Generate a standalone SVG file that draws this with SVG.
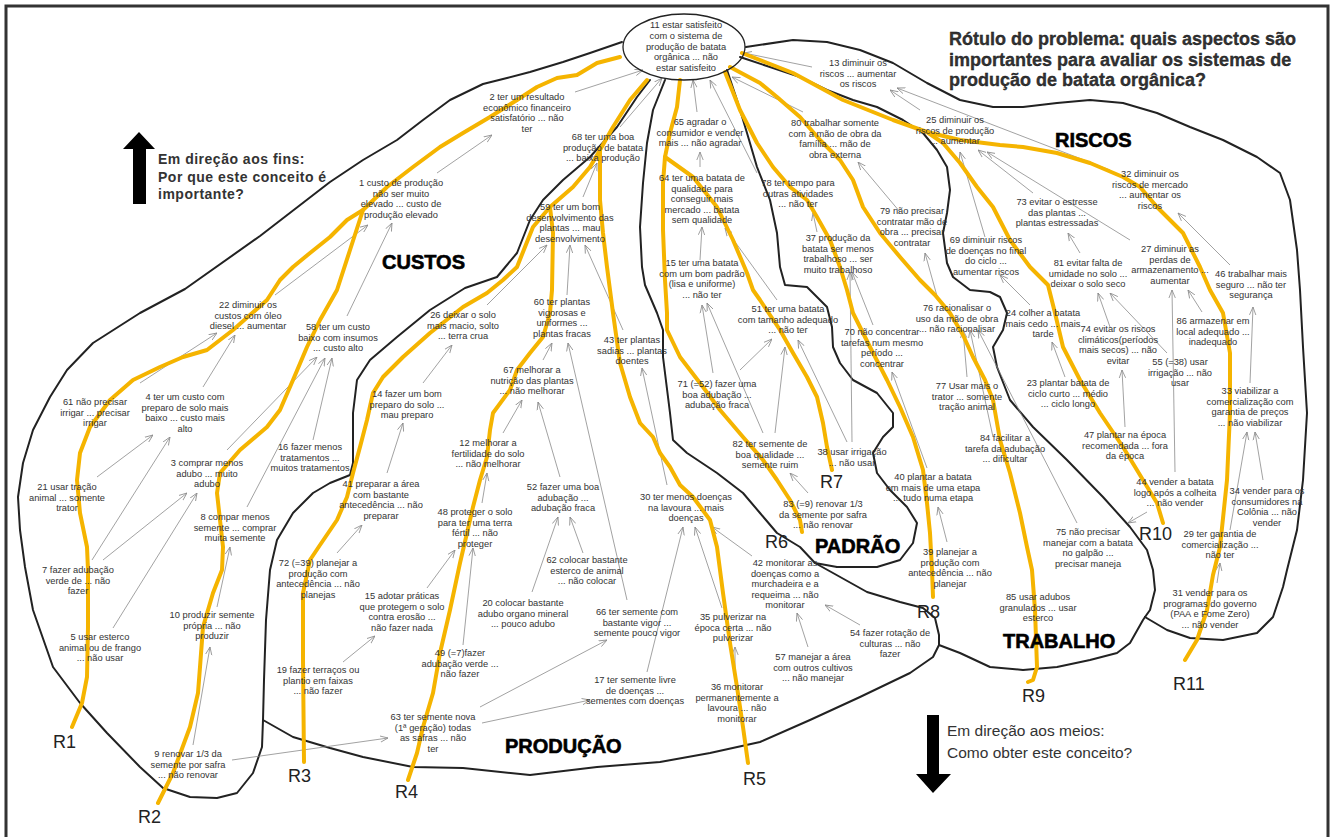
<svg xmlns="http://www.w3.org/2000/svg" width="1333" height="837" viewBox="0 0 1333 837">
<style>
.t{font-family:"Liberation Sans",Arial,sans-serif;font-size:9.3px;fill:#333;text-anchor:middle}
.b{fill:none;stroke:#222;stroke-width:2;stroke-linejoin:round;stroke-linecap:round}
.y{fill:none;stroke:#f5b400;stroke-width:4;stroke-linejoin:round;stroke-linecap:round}
.c{stroke:#8a8a8a;stroke-width:0.8;fill:none;marker-end:url(#ah)}
.g{font-family:"Liberation Sans",Arial,sans-serif;font-size:20px;font-weight:bold;fill:#000;stroke:#000;stroke-width:0.6}
.r{font-family:"Liberation Sans",Arial,sans-serif;font-size:18px;fill:#222}
.h{font-family:"Liberation Sans",Arial,sans-serif;fill:#333}
</style>
<defs>
<marker id="ah" viewBox="0 0 10 10" refX="10" refY="5" markerWidth="8" markerHeight="8" orient="auto" markerUnits="userSpaceOnUse"><path d="M0,1 L10,5 L0,9" fill="none" stroke="#8a8a8a" stroke-width="1"/></marker>
</defs>
<rect x="6" y="6" width="1322" height="840" fill="#fff" stroke="#333" stroke-width="3"/>

<g id="boundaries">
<path class="b" d="M622,42 L590,53 L563,62 L530,72 L507,78 L483,84 L450,100 L423,120 L397,140 L363,160 L330,182 L260,236 L185,289 L140,313 L93,343 L67,370 L50,397 L33,430 L23,463 L18,497 L20,530 L25,567 L33,610 L53,667 L80,703 L107,733 L140,767 L163,788 L190,797 L217,798 L237,793 L253,773 L262,747 L263,720"/>
<path class="b" d="M650,80 L637,97 L617,127 L590,157 L563,180 L543,200 L530,220 L517,253 L497,277 L465,288 L430,310 L397,337 L370,360 L357,380 L353,413 L353,463 L350,475 L330,483 L313,493 L293,513 L277,540 L270,570 L266,620 L264,680 L263,720"/>
<path class="b" d="M263,720 L293,737 L330,748 L363,757 L413,767 L463,768 L530,775 L597,767 L660,762 L710,753 L760,742 L810,720 L860,697 L910,673 L933,657 L939,645 L939,635 L935,618 L923,608 L900,602 L867,592 L833,573 L815,563"/>
<path class="b" d="M665,80 L653,110 L647,143 L643,183 L640,227 L642,267 L645,285 L657,313 L663,330 L663,357 L670,413 L673,440 L687,453 L717,473 L743,493 L760,513 L777,533 L800,547 L815,563 L837,567"/>
<path class="b" d="M727,70 L737,100 L747,133 L757,167 L770,200 L777,233 L780,267 L785,285 L807,287 L827,307 L832,327 L833,347 L840,363 L853,380 L877,393 L893,413 L893,427 L883,437 L873,453 L877,473 L890,490 L907,507 L917,523 L913,543 L900,560 L877,567 L837,567"/>
<path class="b" d="M740,57 L770,67 L800,77 L827,90 L853,100 L877,107 L903,120 L923,133 L937,150 L947,167 L950,190 L947,213 L943,233 L947,263 L953,277 L970,290 L990,292 L1000,297 L1007,313 L1003,330 L993,347 L997,367 L1010,400 L1033,427 L1067,460 L1103,497 L1130,527 L1147,550 L1153,570 L1155,590 L1150,610 L1145,617"/>
<path class="b" d="M939,645 L960,653 L990,667 L1023,670 L1057,667 L1090,660 L1117,653 L1130,643 L1143,620 L1145,617"/>
<path class="b" d="M746,47 L793,40 L827,42 L860,50 L893,63 L927,83 L960,100 L993,107 L1023,107 L1057,103 L1090,100 L1123,103 L1157,113 L1190,127 L1223,140 L1257,157 L1280,173 L1290,200 L1297,250 L1300,290 L1303,347 L1307,413 L1303,480 L1297,530 L1287,570 L1283,587 L1273,617 L1257,633 L1223,640 L1190,638 L1167,630 L1150,620 L1145,617"/>
</g>

<g id="connectors">
<line class="c" x1="575" y1="92" x2="643" y2="70"/>
<line class="c" x1="620" y1="127" x2="662" y2="78"/>
<line class="c" x1="437" y1="173" x2="492" y2="135"/>
<line class="c" x1="275" y1="295" x2="368" y2="225"/>
<line class="c" x1="347" y1="316" x2="392" y2="223"/>
<line class="c" x1="140" y1="383" x2="217" y2="333"/>
<line class="c" x1="203" y1="387" x2="235" y2="335"/>
<line class="c" x1="97" y1="477" x2="153" y2="435"/>
<line class="c" x1="92" y1="560" x2="170" y2="437"/>
<line class="c" x1="103" y1="560" x2="187" y2="493"/>
<line class="c" x1="113" y1="628" x2="197" y2="493"/>
<line class="c" x1="227" y1="450" x2="317" y2="357"/>
<line class="c" x1="247" y1="507" x2="325" y2="358"/>
<line class="c" x1="313" y1="440" x2="332" y2="358"/>
<line class="c" x1="217" y1="607" x2="230" y2="547"/>
<line class="c" x1="193" y1="745" x2="210" y2="647"/>
<line class="c" x1="232" y1="760" x2="388" y2="738"/>
<line class="c" x1="487" y1="305" x2="547" y2="245"/>
<line class="c" x1="423" y1="383" x2="452" y2="345"/>
<line class="c" x1="387" y1="473" x2="403" y2="423"/>
<line class="c" x1="337" y1="553" x2="362" y2="525"/>
<line class="c" x1="567" y1="295" x2="570" y2="245"/>
<line class="c" x1="623" y1="330" x2="585" y2="245"/>
<line class="c" x1="543" y1="360" x2="552" y2="343"/>
<line class="c" x1="503" y1="433" x2="522" y2="400"/>
<line class="c" x1="560" y1="477" x2="538" y2="402"/>
<line class="c" x1="482" y1="503" x2="487" y2="473"/>
<line class="c" x1="583" y1="553" x2="570" y2="517"/>
<line class="c" x1="532" y1="592" x2="558" y2="517"/>
<line class="c" x1="627" y1="600" x2="568" y2="343"/>
<line class="c" x1="463" y1="645" x2="473" y2="548"/>
<line class="c" x1="427" y1="588" x2="455" y2="550"/>
<line class="c" x1="343" y1="662" x2="375" y2="636"/>
<line class="c" x1="480" y1="707" x2="607" y2="640"/>
<line class="c" x1="482" y1="723" x2="590" y2="700"/>
<line class="c" x1="647" y1="672" x2="683" y2="527"/>
<line class="c" x1="722" y1="608" x2="695" y2="527"/>
<line class="c" x1="752" y1="556" x2="712" y2="527"/>
<line class="c" x1="667" y1="485" x2="642" y2="368"/>
<line class="c" x1="735" y1="680" x2="735" y2="647"/>
<line class="c" x1="808" y1="647" x2="797" y2="613"/>
<line class="c" x1="860" y1="625" x2="825" y2="605"/>
<line class="c" x1="740" y1="370" x2="772" y2="339"/>
<line class="c" x1="763" y1="433" x2="707" y2="303"/>
<line class="c" x1="713" y1="373" x2="702" y2="305"/>
<line class="c" x1="775" y1="433" x2="785" y2="347"/>
<line class="c" x1="847" y1="442" x2="798" y2="340"/>
<line class="c" x1="852" y1="442" x2="850" y2="272"/>
<line class="c" x1="808" y1="493" x2="790" y2="473"/>
<line class="c" x1="700" y1="260" x2="702" y2="227"/>
<line class="c" x1="777" y1="300" x2="725" y2="228"/>
<line class="c" x1="700" y1="167" x2="700" y2="152"/>
<line class="c" x1="697" y1="112" x2="693" y2="80"/>
<line class="c" x1="757" y1="173" x2="710" y2="80"/>
<line class="c" x1="803" y1="112" x2="732" y2="77"/>
<line class="c" x1="812" y1="67" x2="744" y2="53"/>
<line class="c" x1="900" y1="212" x2="858" y2="162"/>
<line class="c" x1="873" y1="325" x2="852" y2="272"/>
<line class="c" x1="817" y1="232" x2="813" y2="213"/>
<line class="c" x1="927" y1="468" x2="892" y2="372"/>
<line class="c" x1="947" y1="542" x2="938" y2="507"/>
<line class="c" x1="985" y1="237" x2="960" y2="152"/>
<line class="c" x1="920" y1="110" x2="890" y2="90"/>
<line class="c" x1="1110" y1="170" x2="897" y2="88"/>
<line class="c" x1="1033" y1="193" x2="978" y2="150"/>
<line class="c" x1="1130" y1="240" x2="987" y2="152"/>
<line class="c" x1="1080" y1="253" x2="1068" y2="233"/>
<line class="c" x1="1230" y1="265" x2="1178" y2="213"/>
<line class="c" x1="937" y1="296" x2="925" y2="253"/>
<line class="c" x1="967" y1="377" x2="963" y2="330"/>
<line class="c" x1="993" y1="437" x2="970" y2="330"/>
<line class="c" x1="1077" y1="523" x2="978" y2="330"/>
<line class="c" x1="1030" y1="305" x2="1000" y2="275"/>
<line class="c" x1="1065" y1="377" x2="1052" y2="342"/>
<line class="c" x1="1110" y1="327" x2="1098" y2="293"/>
<line class="c" x1="1167" y1="353" x2="1110" y2="293"/>
<line class="c" x1="1125" y1="427" x2="1122" y2="370"/>
<line class="c" x1="1175" y1="472" x2="1172" y2="290"/>
<line class="c" x1="1202" y1="312" x2="1188" y2="290"/>
<line class="c" x1="1250" y1="383" x2="1253" y2="307"/>
<line class="c" x1="1263" y1="480" x2="1255" y2="432"/>
<line class="c" x1="1230" y1="530" x2="1247" y2="432"/>
<line class="c" x1="1147" y1="512" x2="1128" y2="523"/>
<line class="c" x1="1217" y1="583" x2="1220" y2="563"/>
<line class="c" x1="583" y1="197" x2="597" y2="163"/>
</g>

<g id="routes">
<path class="y" d="M620,57 L597,63 L577,75 L557,78 L537,87 L517,100 L490,117 L463,133 L440,147 L413,167 L387,187 L363,210 L347,220 L330,237 L310,253 L293,267 L280,280 L267,300 L233,330 L207,350 L183,357 L160,367 L133,380 L110,400 L90,427 L80,453 L77,480 L80,513 L87,547 L88,570 L88,627 L87,677 L82,703 L72,727"/>
<path class="y" d="M363,210 L350,250 L337,290 L320,320 L307,347 L293,380 L280,410 L267,427 L240,450 L220,473 L217,493 L220,520 L223,547 L222,570 L213,593 L203,627 L200,667 L198,693 L190,727 L173,773 L158,803"/>
<path class="y" d="M647,80 L630,100 L613,127 L600,150 L590,167 L573,187 L550,207 L533,227 L517,267 L503,280 L487,293 L463,307 L430,333 L403,357 L383,377 L373,393 L367,420 L360,447 L353,473 L347,497 L337,520 L320,545 L310,560 L303,593 L303,660 L304,762"/>
<path class="y" d="M550,207 L553,233 L552,290 L550,313 L543,337 L530,353 L517,370 L510,390 L493,413 L490,430 L487,457 L480,480 L473,507 L467,533 L460,563 L450,610 L440,653 L433,693 L423,727 L417,753 L408,780"/>
<path class="y" d="M600,150 L600,200 L603,233 L607,267 L610,290 L613,313 L620,363 L630,397 L640,423 L653,437 L660,453 L670,467 L680,485 L693,497 L710,520 L717,547 L720,570 L723,593 L730,643 L737,687 L743,727 L748,763"/>
<path class="y" d="M680,80 L677,107 L670,133 L665,157 L663,183 L663,230 L665,280 L667,313 L667,330 L680,357 L703,387 L720,410 L743,437 L763,460 L777,480 L790,500 L800,520 L802,532"/>
<path class="y" d="M665,157 L693,177 L717,207 L733,240 L747,273 L753,290 L760,300 L780,330 L793,353 L807,377 L817,397 L823,423 L827,447 L832,470"/>
<path class="y" d="M725,72 L740,110 L757,143 L773,167 L790,187 L807,200 L817,217 L830,240 L840,267 L847,290 L853,313 L870,347 L887,380 L900,407 L913,437 L923,470 L927,503 L930,533 L932,570 L933,597"/>
<path class="y" d="M730,67 L760,83 L777,97 L800,117 L820,140 L840,160 L853,180 L863,207 L880,233 L900,257 L920,280 L935,295 L950,313 L963,335 L973,357 L985,380 L993,400 L1000,440 L1010,473 L1020,513 L1027,547 L1032,570 L1035,610 L1037,667 L1033,680 L1028,682"/>
<path class="y" d="M742,53 L793,73 L843,100 L893,120 L927,132 L960,140 L1000,145 L1023,147 L1057,153 L1090,163 L1123,177 L1140,187 L1157,207 L1183,233 L1200,267 L1210,290 L1223,313 L1230,353 L1230,413 L1227,480 L1220,547 L1213,575 L1207,610 L1197,640 L1185,660"/>
<path class="y" d="M927,132 L943,143 L960,163 L977,187 L993,207 L1010,240 L1030,267 L1048,285 L1055,313 L1063,347 L1080,380 L1100,413 L1123,447 L1143,480 L1157,503 L1163,523"/>
</g>

<g id="n11">
<ellipse cx="684" cy="47" rx="61" ry="33" fill="none" stroke="#222" stroke-width="1.3"/>
<text class="t" x="686" y="28"><tspan x="686">11 estar satisfeito</tspan><tspan x="686" dy="10.8">com o sistema de</tspan><tspan x="686" dy="10.8">produção de batata</tspan><tspan x="686" dy="10.8">orgânica ... não</tspan><tspan x="686" dy="10.8">estar satisfeito</tspan></text>
</g>
<g id="n2"><text class="t" x="527" y="100"><tspan x="527">2 ter um resultado</tspan><tspan x="527" dy="10.5">econômico financeiro</tspan><tspan x="527" dy="10.5">satisfatório ... não</tspan><tspan x="527" dy="10.5">ter</tspan></text></g>
<g id="n68"><text class="t" x="603" y="140"><tspan x="603">68 ter uma boa</tspan><tspan x="603" dy="10.5">produção de batata</tspan><tspan x="603" dy="10.5">... baixa produção</tspan></text></g>
<g id="n1"><text class="t" x="401" y="186"><tspan x="401">1 custo de produção</tspan><tspan x="401" dy="10.5">não ser muito</tspan><tspan x="401" dy="10.5">elevado ... custo de</tspan><tspan x="401" dy="10.5">produção elevado</tspan></text></g>
<g id="n59"><text class="t" x="570" y="210"><tspan x="570">59 ter um bom</tspan><tspan x="570" dy="10.5">desenvolvimento das</tspan><tspan x="570" dy="10.5">plantas ... mau</tspan><tspan x="570" dy="10.5">desenvolvimento</tspan></text></g>
<g id="n13"><text class="t" x="858" y="66"><tspan x="858">13 diminuir os</tspan><tspan x="858" dy="10.5">riscos ... aumentar</tspan><tspan x="858" dy="10.5">os riscos</tspan></text></g>
<g id="n65"><text class="t" x="700" y="125"><tspan x="700">65 agradar o</tspan><tspan x="700" dy="10.5">consumidor e vender</tspan><tspan x="700" dy="10.5">mais ... não agradar</tspan></text></g>
<g id="n80"><text class="t" x="835" y="126"><tspan x="835">80 trabalhar somente</tspan><tspan x="835" dy="10.5">com a mão de obra da</tspan><tspan x="835" dy="10.5">família ... mão de</tspan><tspan x="835" dy="10.5">obra externa</tspan></text></g>
<g id="n25"><text class="t" x="955" y="123"><tspan x="955">25 diminuir os</tspan><tspan x="955" dy="10.5">riscos de produção</tspan><tspan x="955" dy="10.5">... aumentar</tspan></text></g>
<g id="n64"><text class="t" x="702" y="181"><tspan x="702">64 ter uma batata de</tspan><tspan x="702" dy="10.5">qualidade para</tspan><tspan x="702" dy="10.5">conseguir mais</tspan><tspan x="702" dy="10.5">mercado ... batata</tspan><tspan x="702" dy="10.5">sem qualidade</tspan></text></g>
<g id="n78"><text class="t" x="798" y="186"><tspan x="798">78 ter tempo para</tspan><tspan x="798" dy="10.5">outras atividades</tspan><tspan x="798" dy="10.5">... não ter</tspan></text></g>
<g id="n79"><text class="t" x="912" y="214"><tspan x="912">79 não precisar</tspan><tspan x="912" dy="10.5">contratar mão de</tspan><tspan x="912" dy="10.5">obra ... precisar</tspan><tspan x="912" dy="10.5">contratar</tspan></text></g>
<g id="n37"><text class="t" x="838" y="241"><tspan x="838">37 produção da</tspan><tspan x="838" dy="10.5">batata ser menos</tspan><tspan x="838" dy="10.5">trabalhoso ... ser</tspan><tspan x="838" dy="10.5">muito trabalhoso</tspan></text></g>
<g id="n69"><text class="t" x="986" y="243"><tspan x="986">69 diminuir riscos</tspan><tspan x="986" dy="10.5">de doenças no final</tspan><tspan x="986" dy="10.5">do ciclo ...</tspan><tspan x="986" dy="10.5">aumentar riscos</tspan></text></g>
<g id="n15a"><text class="t" x="702" y="266"><tspan x="702">15 ter uma batata</tspan><tspan x="702" dy="10.5">com um bom padrão</tspan><tspan x="702" dy="10.5">(lisa e uniforme)</tspan><tspan x="702" dy="10.5">... não ter</tspan></text></g>
<g id="n32"><text class="t" x="1150" y="177"><tspan x="1150">32 diminuir os</tspan><tspan x="1150" dy="10.5">riscos de mercado</tspan><tspan x="1150" dy="10.5">... aumentar os</tspan><tspan x="1150" dy="10.5">riscos</tspan></text></g>
<g id="n73"><text class="t" x="1057" y="205"><tspan x="1057">73 evitar o estresse</tspan><tspan x="1057" dy="10.5">das plantas ...</tspan><tspan x="1057" dy="10.5">plantas estressadas</tspan></text></g>
<g id="n27"><text class="t" x="1170" y="252"><tspan x="1170">27 diminuir as</tspan><tspan x="1170" dy="10.5">perdas de</tspan><tspan x="1170" dy="10.5">armazenamento ...</tspan><tspan x="1170" dy="10.5">aumentar</tspan></text></g>
<g id="n81"><text class="t" x="1088" y="266"><tspan x="1088">81 evitar falta de</tspan><tspan x="1088" dy="10.5">umidade no solo ...</tspan><tspan x="1088" dy="10.5">deixar o solo seco</tspan></text></g>
<g id="n46"><text class="t" x="1251" y="277"><tspan x="1251">46 trabalhar mais</tspan><tspan x="1251" dy="10.5">seguro ... não ter</tspan><tspan x="1251" dy="10.5">segurança</tspan></text></g>
<g id="n22"><text class="t" x="248" y="308"><tspan x="248">22 diminuir os</tspan><tspan x="248" dy="10.5">custos com óleo</tspan><tspan x="248" dy="10.5">diesel ... aumentar</tspan></text></g>
<g id="n58"><text class="t" x="338" y="330"><tspan x="338">58 ter um custo</tspan><tspan x="338" dy="10.5">baixo com insumos</tspan><tspan x="338" dy="10.5">... custo alto</tspan></text></g>
<g id="n61"><text class="t" x="95" y="405"><tspan x="95">61 não precisar</tspan><tspan x="95" dy="10.5">irrigar ... precisar</tspan><tspan x="95" dy="10.5">irrigar</tspan></text></g>
<g id="n4"><text class="t" x="185" y="400"><tspan x="185">4 ter um custo com</tspan><tspan x="185" dy="10.5">preparo de solo mais</tspan><tspan x="185" dy="10.5">baixo ... custo mais</tspan><tspan x="185" dy="10.5">alto</tspan></text></g>
<g id="n16"><text class="t" x="310" y="450"><tspan x="310">16 fazer menos</tspan><tspan x="310" dy="10.5">tratamentos ...</tspan><tspan x="310" dy="10.5">muitos tratamentos</tspan></text></g>
<g id="n3"><text class="t" x="207" y="466"><tspan x="207">3 comprar menos</tspan><tspan x="207" dy="10.5">adubo ... muito</tspan><tspan x="207" dy="10.5">adubo</tspan></text></g>
<g id="n21"><text class="t" x="67" y="490"><tspan x="67">21 usar tração</tspan><tspan x="67" dy="10.5">animal ... somente</tspan><tspan x="67" dy="10.5">trator</tspan></text></g>
<g id="n8"><text class="t" x="235" y="520"><tspan x="235">8 compar menos</tspan><tspan x="235" dy="10.5">semente ... comprar</tspan><tspan x="235" dy="10.5">muita semente</tspan></text></g>
<g id="n72"><text class="t" x="318" y="566"><tspan x="318">72 (=39) planejar a</tspan><tspan x="318" dy="10.5">produção com</tspan><tspan x="318" dy="10.5">antecedência ... não</tspan><tspan x="318" dy="10.5">planejas</tspan></text></g>
<g id="n26"><text class="t" x="463" y="318"><tspan x="463">26 deixar o solo</tspan><tspan x="463" dy="10.5">mais macio, solto</tspan><tspan x="463" dy="10.5">... terra crua</tspan></text></g>
<g id="n60"><text class="t" x="562" y="305"><tspan x="562">60 ter plantas</tspan><tspan x="562" dy="10.5">vigorosas e</tspan><tspan x="562" dy="10.5">uniformes ...</tspan><tspan x="562" dy="10.5">plantas fracas</tspan></text></g>
<g id="n43"><text class="t" x="632" y="343"><tspan x="632">43 ter plantas</tspan><tspan x="632" dy="10.5">sadias ... plantas</tspan><tspan x="632" dy="10.5">doentes</tspan></text></g>
<g id="n14"><text class="t" x="407" y="397"><tspan x="407">14 fazer um bom</tspan><tspan x="407" dy="10.5">preparo do solo ...</tspan><tspan x="407" dy="10.5">mau preparo</tspan></text></g>
<g id="n67"><text class="t" x="532" y="373"><tspan x="532">67 melhorar a</tspan><tspan x="532" dy="10.5">nutrição das plantas</tspan><tspan x="532" dy="10.5">... não melhorar</tspan></text></g>
<g id="n12"><text class="t" x="488" y="446"><tspan x="488">12 melhorar a</tspan><tspan x="488" dy="10.5">fertilidade do solo</tspan><tspan x="488" dy="10.5">... não melhorar</tspan></text></g>
<g id="n41"><text class="t" x="381" y="487"><tspan x="381">41 preparar a área</tspan><tspan x="381" dy="10.5">com bastante</tspan><tspan x="381" dy="10.5">antecedência ... não</tspan><tspan x="381" dy="10.5">preparar</tspan></text></g>
<g id="n52"><text class="t" x="563" y="490"><tspan x="563">52 fazer uma boa</tspan><tspan x="563" dy="10.5">adubação ...</tspan><tspan x="563" dy="10.5">adubação fraca</tspan></text></g>
<g id="n48"><text class="t" x="475" y="515"><tspan x="475">48 proteger o solo</tspan><tspan x="475" dy="10.5">para ter uma terra</tspan><tspan x="475" dy="10.5">fértil ... não</tspan><tspan x="475" dy="10.5">proteger</tspan></text></g>
<g id="n30"><text class="t" x="686" y="500"><tspan x="686">30 ter menos doenças</tspan><tspan x="686" dy="10.5">na lavoura ... mais</tspan><tspan x="686" dy="10.5">doenças</tspan></text></g>
<g id="n62"><text class="t" x="587" y="563"><tspan x="587">62 colocar bastante</tspan><tspan x="587" dy="10.5">esterco de animal</tspan><tspan x="587" dy="10.5">... não colocar</tspan></text></g>
<g id="n51"><text class="t" x="788" y="312"><tspan x="788">51 ter uma batata</tspan><tspan x="788" dy="10.5">com tamanho adequado</tspan><tspan x="788" dy="10.5">... não ter</tspan></text></g>
<g id="n76"><text class="t" x="957" y="311"><tspan x="957">76 racionalisar o</tspan><tspan x="957" dy="10.5">uso da mão de obra</tspan><tspan x="957" dy="10.5">... não racionalisar</tspan></text></g>
<g id="n70"><text class="t" x="882" y="335"><tspan x="882">70 não concentrar</tspan><tspan x="882" dy="10.5">tarefas num mesmo</tspan><tspan x="882" dy="10.5">período ...</tspan><tspan x="882" dy="10.5">concentrar</tspan></text></g>
<g id="n71"><text class="t" x="717" y="387"><tspan x="717">71 (=52) fazer uma</tspan><tspan x="717" dy="10.5">boa adubação ...</tspan><tspan x="717" dy="10.5">adubação fraca</tspan></text></g>
<g id="n77"><text class="t" x="967" y="389"><tspan x="967">77 Usar mais o</tspan><tspan x="967" dy="10.5">trator ... somente</tspan><tspan x="967" dy="10.5">tração animal</tspan></text></g>
<g id="n84"><text class="t" x="1005" y="441"><tspan x="1005">84 facilitar a</tspan><tspan x="1005" dy="10.5">tarefa da adubação</tspan><tspan x="1005" dy="10.5">... dificultar</tspan></text></g>
<g id="n82"><text class="t" x="770" y="447"><tspan x="770">82 ter semente de</tspan><tspan x="770" dy="10.5">boa qualidade ...</tspan><tspan x="770" dy="10.5">semente ruim</tspan></text></g>
<g id="n38"><text class="t" x="852" y="455"><tspan x="852">38 usar irrigação</tspan><tspan x="852" dy="10.5">... não usar</tspan></text></g>
<g id="n40"><text class="t" x="933" y="480"><tspan x="933">40 plantar a batata</tspan><tspan x="933" dy="10.5">em mais de uma etapa</tspan><tspan x="933" dy="10.5">... tudo numa etapa</tspan></text></g>
<g id="n83"><text class="t" x="823" y="507"><tspan x="823">83 (=9) renovar 1/3</tspan><tspan x="823" dy="10.5">da semente por safra</tspan><tspan x="823" dy="10.5">... não renovar</tspan></text></g>
<g id="n42"><text class="t" x="785" y="566"><tspan x="785">42 monitorar as</tspan><tspan x="785" dy="10.5">doenças como a</tspan><tspan x="785" dy="10.5">murchadeira e a</tspan><tspan x="785" dy="10.5">requeima ... não</tspan><tspan x="785" dy="10.5">monitorar</tspan></text></g>
<g id="n39"><text class="t" x="950" y="555"><tspan x="950">39 planejar a</tspan><tspan x="950" dy="10.5">produção com</tspan><tspan x="950" dy="10.5">antecedência ... não</tspan><tspan x="950" dy="10.5">planejar</tspan></text></g>
<g id="n24"><text class="t" x="1043" y="316"><tspan x="1043">24 colher a batata</tspan><tspan x="1043" dy="10.5">mais cedo ... mais</tspan><tspan x="1043" dy="10.5">tarde</tspan></text></g>
<g id="n86"><text class="t" x="1213" y="324"><tspan x="1213">86 armazenar em</tspan><tspan x="1213" dy="10.5">local adequado ...</tspan><tspan x="1213" dy="10.5">inadequado</tspan></text></g>
<g id="n74"><text class="t" x="1118" y="332"><tspan x="1118">74 evitar os riscos</tspan><tspan x="1118" dy="10.5">climáticos(períodos</tspan><tspan x="1118" dy="10.5">mais secos) ... não</tspan><tspan x="1118" dy="10.5">evitar</tspan></text></g>
<g id="n55"><text class="t" x="1180" y="365"><tspan x="1180">55 (=38) usar</tspan><tspan x="1180" dy="10.5">irrigação ... não</tspan><tspan x="1180" dy="10.5">usar</tspan></text></g>
<g id="n23"><text class="t" x="1068" y="386"><tspan x="1068">23 plantar batata de</tspan><tspan x="1068" dy="10.5">ciclo curto ... médio</tspan><tspan x="1068" dy="10.5">... ciclo longo</tspan></text></g>
<g id="n33"><text class="t" x="1250" y="394"><tspan x="1250">33 viabilizar a</tspan><tspan x="1250" dy="10.5">comercialização com</tspan><tspan x="1250" dy="10.5">garantia de preços</tspan><tspan x="1250" dy="10.5">... não viabilizar</tspan></text></g>
<g id="n47"><text class="t" x="1125" y="438"><tspan x="1125">47 plantar na época</tspan><tspan x="1125" dy="10.5">recomendada ... fora</tspan><tspan x="1125" dy="10.5">da época</tspan></text></g>
<g id="n44"><text class="t" x="1175" y="485"><tspan x="1175">44 vender a batata</tspan><tspan x="1175" dy="10.5">logo após a colheita</tspan><tspan x="1175" dy="10.5">... não vender</tspan></text></g>
<g id="n34"><text class="t" x="1267" y="494"><tspan x="1267">34 vender para os</tspan><tspan x="1267" dy="10.5">consumidores na</tspan><tspan x="1267" dy="10.5">Colônia ... não</tspan><tspan x="1267" dy="10.5">vender</tspan></text></g>
<g id="n75"><text class="t" x="1088" y="535"><tspan x="1088">75 não precisar</tspan><tspan x="1088" dy="10.5">manejar com a batata</tspan><tspan x="1088" dy="10.5">no galpão ...</tspan><tspan x="1088" dy="10.5">precisar maneja</tspan></text></g>
<g id="n29"><text class="t" x="1220" y="537"><tspan x="1220">29 ter garantia de</tspan><tspan x="1220" dy="10.5">comercialização ...</tspan><tspan x="1220" dy="10.5">não ter</tspan></text></g>
<g id="n7"><text class="t" x="78" y="573"><tspan x="78">7 fazer adubação</tspan><tspan x="78" dy="10.5">verde de ... não</tspan><tspan x="78" dy="10.5">fazer</tspan></text></g>
<g id="n10"><text class="t" x="212" y="618"><tspan x="212">10 produzir semente</tspan><tspan x="212" dy="10.5">própria ... não</tspan><tspan x="212" dy="10.5">produzir</tspan></text></g>
<g id="n5"><text class="t" x="100" y="640"><tspan x="100">5 usar esterco</tspan><tspan x="100" dy="10.5">animal ou de frango</tspan><tspan x="100" dy="10.5">... não usar</tspan></text></g>
<g id="n19"><text class="t" x="318" y="673"><tspan x="318">19 fazer terraços ou</tspan><tspan x="318" dy="10.5">plantio em faixas</tspan><tspan x="318" dy="10.5">... não fazer</tspan></text></g>
<g id="n9"><text class="t" x="188" y="757"><tspan x="188">9 renovar 1/3 da</tspan><tspan x="188" dy="10.5">semente por safra</tspan><tspan x="188" dy="10.5">... não renovar</tspan></text></g>
<g id="n15b"><text class="t" x="402" y="599"><tspan x="402">15 adotar práticas</tspan><tspan x="402" dy="10.5">que protegem o solo</tspan><tspan x="402" dy="10.5">contra erosão ...</tspan><tspan x="402" dy="10.5">não fazer nada</tspan></text></g>
<g id="n20"><text class="t" x="523" y="606"><tspan x="523">20 colocar bastante</tspan><tspan x="523" dy="10.5">adubo organo mineral</tspan><tspan x="523" dy="10.5">... pouco adubo</tspan></text></g>
<g id="n66"><text class="t" x="637" y="615"><tspan x="637">66 ter semente com</tspan><tspan x="637" dy="10.5">bastante vigor ...</tspan><tspan x="637" dy="10.5">semente pouco vigor</tspan></text></g>
<g id="n49"><text class="t" x="460" y="656"><tspan x="460">49 (=7)fazer</tspan><tspan x="460" dy="10.5">adubação verde ...</tspan><tspan x="460" dy="10.5">não fazer</tspan></text></g>
<g id="n17"><text class="t" x="635" y="683"><tspan x="635">17 ter semente livre</tspan><tspan x="635" dy="10.5">de doenças ...</tspan><tspan x="635" dy="10.5">sementes com doenças</tspan></text></g>
<g id="n63"><text class="t" x="433" y="720"><tspan x="433">63 ter semente nova</tspan><tspan x="433" dy="10.5">(1ª geração) todas</tspan><tspan x="433" dy="10.5">as safras ... não</tspan><tspan x="433" dy="10.5">ter</tspan></text></g>
<g id="n35"><text class="t" x="733" y="620"><tspan x="733">35 pulverizar na</tspan><tspan x="733" dy="10.5">época certa ... não</tspan><tspan x="733" dy="10.5">pulverizar</tspan></text></g>
<g id="n54"><text class="t" x="890" y="636"><tspan x="890">54 fazer rotação de</tspan><tspan x="890" dy="10.5">culturas ... não</tspan><tspan x="890" dy="10.5">fazer</tspan></text></g>
<g id="n57"><text class="t" x="813" y="660"><tspan x="813">57 manejar a área</tspan><tspan x="813" dy="10.5">com outros cultivos</tspan><tspan x="813" dy="10.5">... não manejar</tspan></text></g>
<g id="n36"><text class="t" x="737" y="690"><tspan x="737">36 monitorar</tspan><tspan x="737" dy="10.5">permanentemente a</tspan><tspan x="737" dy="10.5">lavoura ... não</tspan><tspan x="737" dy="10.5">monitorar</tspan></text></g>
<g id="n85"><text class="t" x="1038" y="600"><tspan x="1038">85 usar adubos</tspan><tspan x="1038" dy="10.5">granulados ... usar</tspan><tspan x="1038" dy="10.5">esterco</tspan></text></g>
<g id="n31"><text class="t" x="1210" y="596"><tspan x="1210">31 vender para os</tspan><tspan x="1210" dy="10.5">programas do governo</tspan><tspan x="1210" dy="10.5">(PAA e Fome Zero)</tspan><tspan x="1210" dy="10.5">... não vender</tspan></text></g>

<g id="groups">
<text class="g" x="382" y="269">CUSTOS</text>
<text class="g" x="1055" y="147">RISCOS</text>
<text class="g" x="815" y="553">PADRÃO</text>
<text class="g" x="505" y="753">PRODUÇÃO</text>
<text class="g" x="1003" y="648">TRABALHO</text>
</g>

<g id="routelabels">
<text class="r" x="53" y="748">R1</text>
<text class="r" x="138" y="823">R2</text>
<text class="r" x="288" y="782">R3</text>
<text class="r" x="395" y="798">R4</text>
<text class="r" x="743" y="785">R5</text>
<text class="r" x="765" y="548">R6</text>
<text class="r" x="820" y="488">R7</text>
<text class="r" x="917" y="618">R8</text>
<text class="r" x="1022" y="702">R9</text>
<text class="r" x="1139" y="540">R10</text>
<text class="r" x="1173" y="690">R11</text>
</g>

<g id="title">
<text class="h" x="949" y="45" font-size="18" font-weight="bold" fill="#111" stroke="#111" stroke-width="0.3">Rótulo do problema: quais aspectos são</text>
<text class="h" x="949" y="66" font-size="18" font-weight="bold" fill="#111" stroke="#111" stroke-width="0.3">importantes para avaliar os sistemas de</text>
<text class="h" x="949" y="86" font-size="18" font-weight="bold" fill="#111" stroke="#111" stroke-width="0.3">produção de batata orgânica?</text>
</g>

<g id="legend-up">
<polygon points="139,132 155,149 146,149 146,204 133,204 133,149 123,149" fill="#000"/>
<text class="h" x="158" y="164" font-size="14" font-weight="bold" letter-spacing="0.5">Em direção aos fins:</text>
<text class="h" x="158" y="182" font-size="14" font-weight="bold" letter-spacing="0.5">Por que este conceito é</text>
<text class="h" x="158" y="199" font-size="14" font-weight="bold" letter-spacing="0.5">importante?</text>
</g>
<g id="legend-down">
<polygon points="927,715 939,715 939,774 951,774 933,793 916,774 927,774" fill="#000"/>
<text class="h" x="947" y="736" font-size="15.5">Em direção aos meios:</text>
<text class="h" x="947" y="758" font-size="15.5">Como obter este conceito?</text>
</g>
</svg>
